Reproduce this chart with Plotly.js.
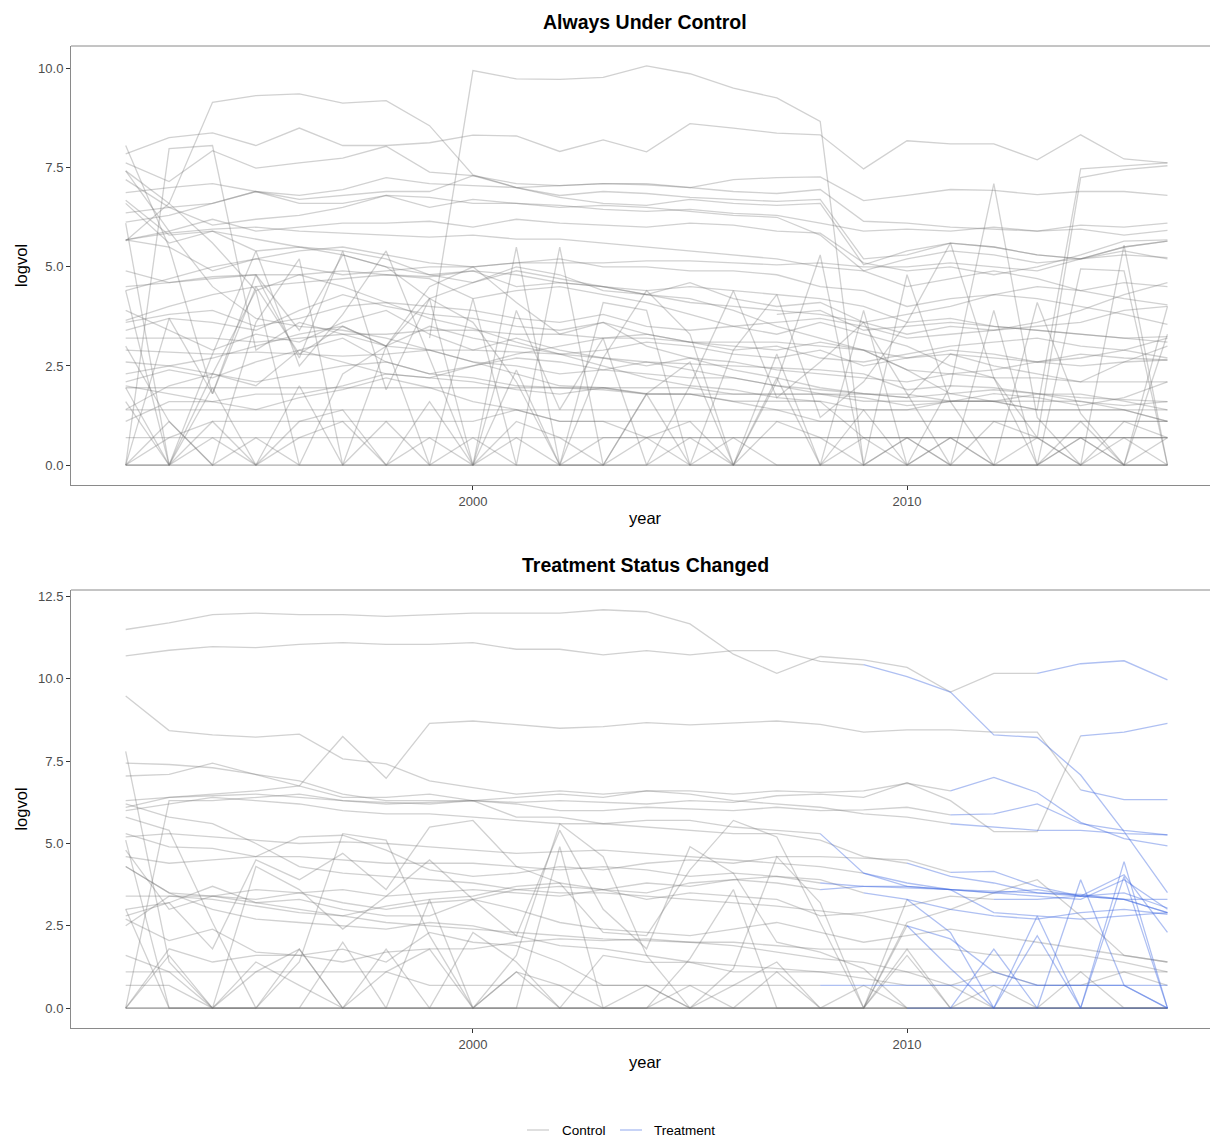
<!DOCTYPE html>
<html>
<head>
<meta charset="utf-8">
<script src="https://cdn.plot.ly/plotly-3.0.1.min.js"></script>
<style>
html,body{margin:0;padding:0;background:#fff;overflow:hidden;width:1210px;height:1140px;}
#chart{position:absolute;left:0;top:0;width:1210px;height:1140px;overflow:hidden;}
</style>
</head>
<body>
<div id="chart"></div>
<script>
// ---------------- DATA ----------------
const years = [1992,1993,1994,1995,1996,1997,1998,1999,2000,2001,2002,2003,2004,2005,2006,2007,2008,2009,2010,2011,2012,2013,2014,2015,2016];
const xTickVals = [2000, 2010];
const xTickText = ["2000", "2010"];
const p1TickVals = [0, 2.5, 5, 7.5, 10];
const p2TickVals = [0, 2.5, 5, 7.5, 10, 12.5];
const legendNames = ["Control", "Treatment"];
const N = null;

// Panel 1: "Always Under Control" (logvol by unit, 1992-2016)
const alwaysControl = [
 [N,N,N,N,N,N,N,3.2,9.95,9.74,9.73,9.78,10.07,9.87,9.51,9.26,8.67,0,0.69,0,1.1,0.69,0,0,0.69],
 [7.85,8.26,8.38,8.06,8.5,8.06,8.06,8.13,8.32,8.3,7.91,8.2,7.9,8.61,8.5,8.37,8.33,7.47,8.18,8.1,8.1,7.7,8.33,7.72,7.62],
 [5.65,6.6,9.15,9.32,9.36,9.13,9.19,8.56,7.32,7.0,6.75,6.6,6.55,6.7,6.6,6.55,6.6,5.05,5.4,5.6,5.5,5.3,5.2,5.5,5.65],
 [7.62,7.15,7.93,7.49,7.62,7.74,8.04,7.39,7.3,7.1,7.05,7.1,7.07,7.0,7.2,7.25,7.27,6.67,6.8,6.95,6.93,6.82,6.9,6.9,6.8],
 [0,7.98,8.06,2.9,3.6,3.3,3.0,3.5,3.2,3.0,2.8,2.9,3.1,3.0,2.8,2.7,2.9,2.5,2.7,2.9,2.8,2.6,2.8,2.7,2.65],
 [7.42,5.9,4.5,3.7,3.5,3.4,3.2,2.9,2.6,2.3,2.0,1.95,1.8,1.79,1.6,1.39,1.1,1.1,1.1,1.1,1.1,1.1,1.1,1.1,1.1],
 [7.42,6.6,5.6,4.4,4.8,4.5,4.1,3.7,3.45,3.1,2.8,2.5,2.2,2.0,1.9,1.7,1.6,0.69,0.69,0.69,0.69,0.69,0.69,0.69,0.69],
 [7.2,6.5,6.05,6.2,6.3,6.5,6.8,6.75,6.6,6.6,6.55,6.45,6.4,6.45,6.35,6.3,6.1,5.9,5.95,5.9,6.0,5.9,6.05,6.0,6.1],
 [6.87,7.0,7.1,6.9,6.8,6.95,7.25,7.1,7.05,7.0,7.05,7.1,7.1,7.0,6.9,6.85,6.95,6.15,6.1,6.0,5.95,5.9,5.95,5.8,5.92],
 [6.68,5.8,5.9,5.4,5.5,5.3,5.0,4.8,4.6,4.9,4.7,4.5,4.3,4.2,3.9,3.5,3.2,2.9,2.4,1.8,1.6,1.4,7.47,7.55,7.62],
 [4.5,4.6,4.75,4.8,4.8,4.9,4.8,4.7,4.2,4.4,4.5,4.3,4.1,3.8,3.5,3.3,3.6,3.3,3.0,2.5,2.2,0.69,7.25,7.45,7.55],
 [6.36,6.5,6.6,6.9,6.7,6.8,6.9,6.9,7.3,7.0,6.8,6.9,6.85,6.75,6.7,6.65,6.7,5.2,5.3,5.6,5.5,5.3,5.2,5.3,5.23],
 [6.13,6.3,6.6,6.9,6.6,6.6,6.8,6.5,6.7,6.6,6.5,6.55,6.5,6.4,6.3,6.25,5.8,4.9,5.2,5.4,5.3,5.1,5.2,5.5,5.65],
 [5.68,5.9,6.2,5.9,6.0,6.1,6.1,6.15,6.0,6.2,6.1,6.05,6.0,6.1,6.05,5.9,5.85,5.1,4.9,5.0,4.8,5.0,5.3,5.65,5.68],
 [5.68,5.85,5.95,6.0,5.9,5.85,5.8,5.75,5.8,5.7,5.7,5.6,5.5,5.4,5.3,5.2,5.0,4.9,4.5,4.7,4.9,4.7,4.4,4.2,4.04],
 [4.4,4.7,5.0,5.2,5.4,5.5,5.3,5.1,5.0,5.1,5.2,5.0,5.0,4.9,4.9,4.8,4.5,4.4,4.0,4.2,4.3,4.2,4.0,3.8,3.55],
 [3.65,4.0,4.3,4.5,4.6,4.7,4.8,4.75,4.9,4.8,4.6,4.5,4.4,4.5,4.4,4.3,4.2,4.0,3.6,3.7,3.5,3.4,3.3,3.2,3.24],
 [3.4,3.7,3.6,3.4,3.9,4.3,4.0,3.8,3.7,3.5,3.4,3.6,3.3,3.1,3.0,2.9,3.1,2.9,2.7,2.8,2.7,2.6,2.5,2.6,2.65],
 [3.2,3.2,3.2,3.1,3.2,3.3,3.3,3.4,3.4,3.3,3.3,3.2,3.2,3.1,3.1,3.1,3.0,2.9,2.4,2.3,2.2,2.2,2.1,2.1,2.1],
 [2.9,2.85,2.8,2.85,2.8,2.75,2.8,2.9,2.9,2.85,2.8,2.7,2.6,2.55,2.5,2.45,2.4,2.3,1.9,2.0,1.95,1.8,1.7,1.65,1.6],
 [2.6,2.5,2.3,2.1,2.3,2.5,2.6,2.3,2.2,2.0,1.95,1.9,1.79,1.79,1.79,1.79,1.79,1.79,1.79,1.61,1.61,1.79,1.79,1.61,1.39],
 [1.95,1.95,1.95,1.95,1.95,1.95,1.95,1.95,1.95,1.95,1.95,1.95,1.95,1.95,1.79,1.79,1.79,1.61,1.61,1.61,1.61,1.61,1.61,1.39,1.39],
 [1.39,1.39,1.39,1.39,1.39,1.39,1.39,1.39,1.39,1.39,1.39,1.39,1.39,1.39,1.39,1.39,1.39,1.39,1.39,1.39,1.39,1.39,1.39,1.39,1.1],
 [0,0.69,1.1,1.1,1.1,1.1,1.1,1.1,1.1,1.39,1.1,1.1,0.69,0.69,0.69,0.69,0.69,0.69,0.69,0.69,0.69,0.69,0.69,0.69,0.69],
 [0.69,0.69,0.69,0.69,0.69,0.69,0.69,0.69,0.69,0.69,0.69,0.69,0.69,0.69,0.69,0.69,0.69,0.69,0.69,0.69,0.69,0.69,0.69,0.69,0.69],
 [1.6,0,1.1,0,0.69,1.1,0,0.69,0,1.1,0.69,0,0,0.69,0,1.1,0.69,0,0,0.69,0,0,0.69,0,0],
 [0,1.1,0,0.69,0,0,1.1,0,0,0.69,0,0,0.69,0,0.69,0,0,0,0.69,0,0,0.69,0,0.69,0],
 [0,0,0,0,0,0,0,0,0,0,0,0,0,0,0,0,0,0,0,0,0,0,0,0,0],
 [0,0,0,0,0,0,0,0,0,0,0,0,0,0,0,0,0,0,0,0,0,0,0,0,0],
 [1.95,0,1.95,0,2.0,0,0,1.6,0,2.4,0,0,1.79,0,0,2.2,0,1.39,0,0.69,0,0,1.1,0,0],
 [4.4,0,2.3,4.4,0,2.3,3.0,0,4.2,0,5.5,0,1.8,2.6,0,2.8,0,3.9,0,2.0,7.1,1.2,0,5.55,0],
 [0,3.7,1.8,4.8,2.7,5.4,1.9,4.2,0,3.9,1.4,3.2,0,2.0,4.4,1.7,2.6,3.6,1.8,0,3.9,0,4.95,4.9,0],
 [3.0,1.1,0,3.6,5.2,0,3.0,4.2,3.6,2.1,0,2.7,4.4,3.3,0,2.1,5.3,0,4.8,1.6,0,4.1,1.3,0,4.0],
 [6.1,0,2.8,5.4,2.5,3.8,5.4,2.7,0,5.5,0,4.1,3.9,0,2.9,4.3,1.2,2.1,3.6,5.6,2.2,0,0.69,0,3.3],
 [5.68,5.5,1.8,4.5,2.8,3.5,3.0,4.5,5.0,4.1,3.3,3.6,3.0,2.7,2.4,2.2,1.95,1.8,1.7,2.8,2.5,2.3,2.1,2.6,3.0],
 [1.1,1.6,1.6,1.79,1.79,2.0,2.3,2.2,2.1,1.9,1.79,1.95,1.79,1.79,1.61,1.61,1.61,1.39,1.39,1.61,1.61,1.39,1.39,1.39,1.1],
 [2.0,1.8,1.6,1.4,1.7,1.9,2.2,1.95,1.6,1.4,1.1,1.1,1.1,1.1,1.1,1.1,1.1,1.1,1.1,1.1,1.1,1.1,1.1,1.1,1.1],
 [1.4,2.0,2.3,2.0,2.9,3.2,2.6,2.3,2.5,2.7,2.6,2.4,2.3,2.2,2.2,2.0,1.9,1.8,1.7,1.8,1.9,1.8,1.6,1.5,1.6],
 [3.6,3.8,3.9,3.5,3.7,4.0,4.1,4.0,3.9,3.7,3.6,3.8,3.5,3.4,3.5,3.6,3.7,3.5,3.2,3.3,3.4,3.5,3.6,3.9,4.0],
 [8.06,5.5,4.9,5.2,5.0,4.8,4.9,5.0,5.0,5.1,5.1,5.1,5.15,5.15,5.1,5.05,5.1,5.0,5.0,5.1,5.0,4.9,5.2,5.4,5.2],
 [6.6,5.6,5.9,5.7,5.5,5.4,5.2,4.8,4.9,4.5,4.6,4.5,4.3,4.1,4.0,3.9,3.8,3.6,3.3,3.5,3.4,3.6,3.9,4.3,4.6],
 [N,N,N,N,N,N,N,N,N,N,N,N,N,N,N,3.8,3.9,3.4,3.5,3.6,3.5,3.4,3.3,3.2,3.1],
 [2.3,2.5,2.7,3.0,3.3,3.5,3.0,2.9,2.6,2.5,2.3,2.4,2.6,2.4,2.2,2.0,1.8,1.7,1.5,1.6,1.8,1.7,1.5,1.7,2.1],
 [0,0,0.69,0,1.1,1.39,0,0,0.69,0,0,0.69,0.69,1.1,0,0,0,0.69,0,0,0,0,0,1.1,0.69],
 [4.9,4.6,4.7,4.8,3.4,5.3,5.0,4.2,4.6,5.0,4.8,4.4,4.3,4.6,4.2,4.0,4.1,3.6,3.8,4.0,4.3,4.5,4.4,4.6,4.5],
 [2.1,2.4,2.2,2.6,2.9,2.6,2.3,2.2,2.5,2.8,3.0,3.2,3.3,3.1,2.9,3.0,2.7,2.6,2.8,3.0,3.1,3.2,3.0,2.9,2.7],
 [3.9,3.4,2.9,3.3,3.1,3.6,3.9,3.3,2.9,3.2,2.9,2.7,2.5,2.7,2.6,2.4,2.3,2.2,2.1,2.3,2.4,2.6,2.7,2.9,3.2]
];

// Panel 2: "Treatment Status Changed" (logvol by unit) and first treated year (null = never)
const statusChanged = [
 [11.5,11.7,11.95,12.0,11.95,11.95,11.9,11.95,12.0,12.0,12.0,12.1,12.04,11.67,10.75,10.17,10.68,10.58,10.35,9.6,10.17,10.17,10.46,10.55,9.97],
 [10.7,10.87,10.98,10.95,11.05,11.1,11.05,11.05,11.1,10.9,10.9,10.73,10.86,10.73,10.86,10.86,10.53,10.43,10.07,9.6,8.3,8.22,7.08,5.36,3.51],
 [6.3,6.4,6.5,6.6,6.75,8.25,6.98,8.65,8.72,8.6,8.5,8.55,8.67,8.6,8.67,8.72,8.62,8.38,8.45,8.45,8.38,8.38,6.63,6.33,6.33],
 [9.48,8.43,8.3,8.23,8.32,7.57,7.42,6.9,6.7,6.5,6.6,6.5,6.6,6.5,6.3,6.2,6.1,5.9,5.8,5.6,5.5,5.4,5.4,5.3,5.26],
 [6.1,6.4,6.45,6.5,6.4,6.3,6.25,6.2,6.3,6.25,6.3,6.25,6.2,6.3,6.25,6.45,6.5,6.4,6.85,6.3,5.36,5.36,8.27,8.38,8.65],
 [7.44,7.4,7.3,7.1,6.9,6.5,6.3,6.3,6.3,6.4,6.5,6.4,6.6,6.6,6.5,6.6,6.55,6.6,6.83,6.6,7.01,6.55,5.64,5.15,4.93],
 [7.05,7.1,7.44,7.1,6.75,6.4,6.4,6.5,6.3,6.2,6.0,6.0,6.1,6.05,6.0,6.1,6.0,6.02,6.1,5.87,5.9,6.2,5.6,5.4,5.26],
 [5.3,4.9,4.85,4.6,5.2,5.25,4.8,4.2,4.0,4.1,4.3,4.2,4.4,4.5,4.4,4.6,4.6,4.55,4.5,4.12,4.15,3.69,3.4,3.5,3.04],
 [4.6,4.4,4.5,4.6,4.6,4.5,4.4,4.4,4.4,4.3,4.2,4.3,4.2,4.0,4.1,4.0,3.8,3.7,3.65,3.6,3.55,3.5,3.45,3.3,2.9],
 [4.3,3.5,3.4,3.3,3.5,3.6,3.4,3.5,3.6,3.5,3.4,3.6,3.8,3.7,3.9,4.0,3.9,3.5,3.3,3.0,2.8,2.7,2.9,3.0,2.85],
 [3.0,3.2,3.7,3.2,3.0,2.8,3.1,3.3,3.4,3.7,3.8,3.6,3.5,3.8,3.9,3.8,3.6,3.7,3.7,3.6,3.5,3.4,3.3,3.9,3.0],
 [2.5,3.4,3.4,3.2,3.3,3.0,2.8,2.8,3.3,3.6,3.7,3.6,3.3,3.5,3.4,3.3,2.8,2.9,3.1,3.4,3.3,3.3,3.4,4.05,2.3],
 [4.8,3.0,3.4,3.6,3.5,3.2,3.0,3.2,3.3,3.0,2.6,2.4,2.3,2.2,2.4,2.6,2.3,2.0,2.2,2.4,2.2,2.0,1.8,1.6,1.4],
 [2.7,2.05,2.4,1.7,1.6,1.4,1.7,1.8,1.8,2.0,2.1,2.05,2.1,2.0,2.0,1.9,1.79,1.79,1.79,1.79,1.61,1.61,1.61,1.39,1.1],
 [1.6,1.1,0,1.1,1.79,0,1.79,0,2.3,1.4,0,1.6,1.39,1.39,1.1,1.1,1.1,1.1,1.1,1.1,1.1,1.1,1.1,1.1,1.1],
 [1.1,1.1,1.1,1.1,1.1,1.1,1.1,0.69,0.69,0.69,0.69,0.69,0.69,0.69,0.69,0.69,0.69,0.69,0.69,0.69,0.69,0.69,0.69,0.69,0.69],
 [0.69,0.69,0,1.4,0.69,0,1.1,1.79,0,1.1,0.69,0,0,0.69,0,0,0,0,0,0,0,0,0,0,0],
 [0,1.8,1.4,1.6,1.6,1.79,1.4,2.3,2.0,1.9,1.4,0.69,0.69,0,0.69,1.4,0,0.69,0,0,0,0,0,0,0],
 [5.1,0,0,0,0,0,0,0,0,0,0,0,0,0,0,0,0,0,0,0,0,0,0,0,0],
 [0,0,0,0,0,0,0,0,0,0,0,0,0,0,0,0,0,0,0,0,0,0,0,0,0],
 [0,0,0,0,0,0,0,0,0,0,0,0,0,0,0,0,0,0,0,0,0,0,0,0,0],
 [0,0,0,0,0,0,0,0,0,0,0,0,0,0,0,0,0,0,2.5,1.2,0,2.2,0,4.45,0],
 [0,1.6,0,0,1.79,0,0,0,0,1.1,0,0,0.69,0,0,1.1,0,0,3.3,2.3,0,2.8,0,4.0,0],
 [3.0,0,0,0,0,2.0,0,3.3,0,0,4.9,0,0,1.5,3.6,0,0,0,1.79,0,1.79,0,3.9,0.69,0],
 [4.3,3.5,3.0,2.7,2.6,2.5,2.4,2.6,2.5,2.2,1.9,1.8,1.6,1.4,1.3,1.2,1.1,0.9,0.69,0.69,0,0,0,0,0],
 [6.2,5.8,5.6,5.0,4.3,4.1,4.0,3.9,3.8,3.6,3.5,3.5,3.4,3.3,3.2,3.1,2.95,2.8,2.5,2.1,1.1,0.7,0.69,0.69,0],
 [3.4,3.4,3.3,3.1,2.9,2.8,2.6,2.5,2.4,2.3,2.2,2.1,2.05,2.0,1.9,1.7,1.5,1.39,1.1,0.69,1.1,0.69,0.69,1.1,0.69],
 [5.2,5.3,5.2,5.1,5.0,5.05,5.0,4.9,4.8,4.7,4.75,4.8,4.7,4.6,4.5,4.4,4.3,4.1,3.7,3.6,3.5,3.6,3.4,3.3,3.3],
 [2.8,3.2,1.8,4.5,3.9,4.7,3.6,5.5,5.7,4.3,3.8,2.3,2.2,4.2,5.7,5.2,2.6,0,2.6,3.0,3.5,3.9,2.8,1.6,1.4],
 [5.8,5.4,2.6,0,1.4,5.3,5.1,2.2,0,1.6,5.6,4.6,1.6,0,1.2,4.6,3.2,0,1.6,0,0.69,0,1.1,0,0],
 [0,6.3,6.3,6.4,6.5,6.3,6.2,6.25,6.3,5.8,5.8,5.6,5.7,5.7,5.5,5.4,5.3,4.1,3.8,3.6,2.9,2.8,2.7,2.8,2.9],
 [7.8,1.4,0,4.3,3.6,2.4,3.4,4.5,3.3,2.2,5.4,3.0,1.8,4.9,4.1,2.0,1.7,1.2,0,0,0,0,0,0,0],
 [6.0,6.2,6.4,6.3,6.2,6.0,5.9,5.9,5.8,5.7,5.6,5.6,5.5,5.4,5.3,5.3,5.1,4.6,4.4,4.0,3.8,3.5,3.4,3.3,2.9]
];
const treatStart = [2013,2009,2014,2011,2014,2011,2011,2011,2008,2009,2008,2012,null,null,null,2008,null,null,null,null,2010,2010,2010,2011,null,2010,null,2009,null,null,2008,null,2010];

// ---------------- DRAW ----------------
const grayCol = 'rgba(115,115,115,0.33)';
const blueCol = 'rgba(65,105,225,0.42)';
const lw = 1.3;
const traces = [];

alwaysControl.forEach(function (s) {
  traces.push({type:'scatter', mode:'lines', x: years, y: s, xaxis:'x', yaxis:'y',
    line:{color:grayCol, width:lw}, showlegend:false, hoverinfo:'skip', connectgaps:false});
});

const blueTraces = [];
statusChanged.forEach(function (s, i) {
  const t = treatStart[i];
  const cx = [], cy = [], tx = [], ty = [];
  years.forEach(function (yr, k) {
    if (t === null || yr <= t) { cx.push(yr); cy.push(s[k]); }
    if (t !== null && yr >= t) { tx.push(yr); ty.push(s[k]); }
  });
  traces.push({type:'scatter', mode:'lines', x: cx, y: cy, xaxis:'x2', yaxis:'y2',
    line:{color:grayCol, width:lw}, showlegend:false, hoverinfo:'skip'});
  if (tx.length > 1) {
    blueTraces.push({type:'scatter', mode:'lines', x: tx, y: ty, xaxis:'x2', yaxis:'y2',
      line:{color:blueCol, width:lw}, showlegend:false, hoverinfo:'skip'});
  }
});
blueTraces.forEach(function (t) { traces.push(t); });

const FONT = 'Liberation Sans, Arial, Helvetica, sans-serif';
const tickFont = {family: FONT, size: 13, color: '#4d4d4d'};
const titleFont = {family: FONT, size: 16.5, color: '#000'};
const mainTitleFont = {family: FONT, size: 19.5, color: '#000'};
const borderCol = '#8a8a8a';

const H = 1140, W = 1210, L = 71;
function py(p) { return 1 - p / H; }
function pxp(p) { return (p - L) / (W - L); }
const titleX = pxp(645);

function xAxis(anchor) {
  return {anchor: anchor, domain:[0,1], range:[1990.74, 2016.98], tickvals: xTickVals, ticktext: xTickText,
    ticks:'outside', ticklen:4, tickcolor:'#333', tickwidth:1, tickfont: tickFont,
    showline:true, mirror:false, linecolor:borderCol, linewidth:1, showgrid:false, zeroline:false,
    title:{text:''}};
}
function yAxis(anchor, dom, rng, tv) {
  return {anchor: anchor, domain: dom, range: rng, tickvals: tv, tickformat:'.1f',
    ticks:'outside', ticklen:4, tickcolor:'#333', tickwidth:1, tickfont: tickFont,
    showline:true, mirror:false, linecolor:borderCol, linewidth:1, showgrid:false, zeroline:false,
    title:{text:'logvol', font: titleFont, standoff: 6}};
}

// legend key (drawn below the lower panel)
const legY = py(1130);
const legendShapes = [
  {type:'line', xref:'paper', yref:'paper', x0:pxp(527), x1:pxp(549), y0:legY, y1:legY,
    line:{color:'rgba(115,115,115,0.35)', width:lw}},
  {type:'line', xref:'paper', yref:'paper', x0:pxp(620), x1:pxp(642), y0:legY, y1:legY,
    line:{color:'rgba(65,105,225,0.45)', width:lw}}
];
const legendTexts = [
  {text:legendNames[0], xref:'paper', yref:'paper', x:pxp(560), y:legY, xanchor:'left', yanchor:'middle',
    showarrow:false, font:{family: FONT, size:13.5, color:'#000'}},
  {text:legendNames[1], xref:'paper', yref:'paper', x:pxp(652), y:legY, xanchor:'left', yanchor:'middle',
    showarrow:false, font:{family: FONT, size:13.5, color:'#000'}}
];

const layout = {
  width: W, height: H,
  margin: {l:L, r:0, t:0, b:0},
  paper_bgcolor:'#fff', plot_bgcolor:'#fff',
  font: {family: FONT},
  xaxis: xAxis('y'),
  yaxis: yAxis('x', [py(485), py(46)], [-0.503, 10.57], p1TickVals),
  xaxis2: xAxis('y2'),
  yaxis2: yAxis('x2', [py(1028), py(590)], [-0.605, 12.7], p2TickVals),
  showlegend: false,
  shapes: [
    {type:'line', xref:'x domain', yref:'y domain', x0:0, x1:1, y0:1, y1:1, line:{color:borderCol, width:1}},
    {type:'line', xref:'x2 domain', yref:'y2 domain', x0:0, x1:1, y0:1, y1:1, line:{color:borderCol, width:1}}
  ].concat(legendShapes),
  annotations: [
    {text:'<b>Always Under Control</b>', xref:'paper', yref:'paper', x:titleX, y:py(22),
      xanchor:'center', yanchor:'middle', showarrow:false, font: mainTitleFont},
    {text:'<b>Treatment Status Changed</b>', xref:'paper', yref:'paper', x:titleX, y:py(565),
      xanchor:'center', yanchor:'middle', showarrow:false, font: mainTitleFont},
    {text:'year', xref:'paper', yref:'paper', x:titleX, y:py(518),
      xanchor:'center', yanchor:'middle', showarrow:false, font: titleFont},
    {text:'year', xref:'paper', yref:'paper', x:titleX, y:py(1062),
      xanchor:'center', yanchor:'middle', showarrow:false, font: titleFont}
  ].concat(legendTexts)
};

Plotly.newPlot('chart', traces, layout, {displayModeBar:false, staticPlot:true});
</script>
</body>
</html>
